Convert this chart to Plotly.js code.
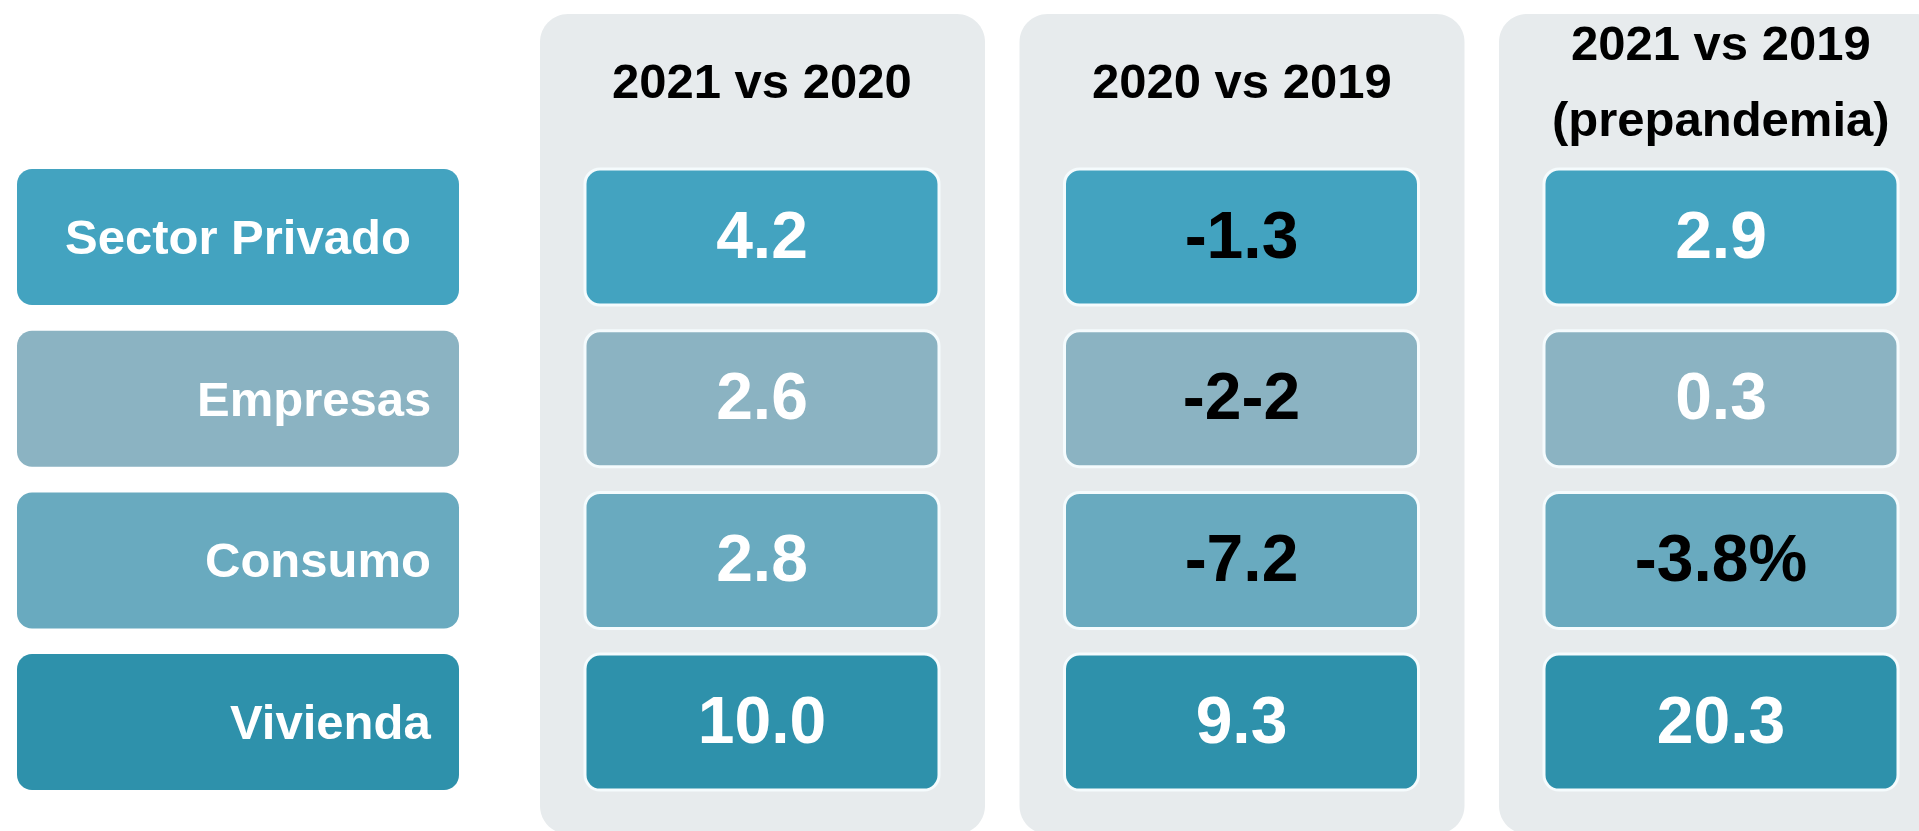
<!DOCTYPE html>
<html>
<head>
<meta charset="utf-8">
<script src="https://cdn.plot.ly/plotly-3.0.1.min.js"></script>
<style>
  html, body { margin: 0; padding: 0; background: #ffffff; }
  #chart { width: 1919px; height: 831px; }
</style>
</head>
<body>
<div id="chart"></div>
<script>
// ---- data ----
const rowLabels = ["Sector Privado", "Empresas", "Consumo", "Vivienda"];
const headers = ["2021 vs 2020", "2020 vs 2019", "2021 vs 2019<br>(prepandemia)"];
const vs2021_2020 = ["4.2", "2.6", "2.8", "10.0"];
const vs2020_2019 = ["-1.3", "-2-2", "-7.2", "9.3"];
const vs2021_2019 = ["2.9", "0.3", "-3.8%", "20.3"];
const columns = [vs2021_2020, vs2020_2019, vs2021_2019];

// ---- styles / layout constants ----
const W = 1919, H = 831;
const rowColors = ["#43a3c0", "#8bb3c2", "#69aabf", "#2e91ab"];
const panelColor = "#e7ebed";
const FONT = "Liberation Sans, Arial, sans-serif";
const rowTop0 = 169, rowStep = 161.7, rowH = 136;
const labelX0 = 17, labelX1 = 459;
const panelX0 = 540, panelStep = 479.5, panelW = 445, panelTop = 14, panelBottom = 834;
const cellInset = 45, cellW = 354;
const valueShift = 4;

function rowTop(i) { return rowTop0 + i * rowStep; }
function rowMid(i) { return rowTop(i) + rowH / 2; }
function panelLeft(j) { return panelX0 + j * panelStep; }
function cellLeft(j) { return panelLeft(j) + cellInset; }
function colMid(j) { return cellLeft(j) + cellW / 2; }

function rr(x0, y0, x1, y1, r) {
  const k = 0.4477 * r;
  return `M${x0 + r},${y0} L${x1 - r},${y0} C${x1 - k},${y0} ${x1},${y0 + k} ${x1},${y0 + r} ` +
         `L${x1},${y1 - r} C${x1},${y1 - k} ${x1 - k},${y1} ${x1 - r},${y1} ` +
         `L${x0 + r},${y1} C${x0 + k},${y1} ${x0},${y1 - k} ${x0},${y1 - r} ` +
         `L${x0},${y0 + r} C${x0},${y0 + k} ${x0 + k},${y0} ${x0 + r},${y0} Z`;
}

const shapes = [];
columns.forEach((col, j) => {
  shapes.push({
    type: "path", xref: "x", yref: "y", layer: "below",
    path: rr(panelLeft(j), panelTop, panelLeft(j) + panelW, panelBottom, 28),
    fillcolor: panelColor, line: { width: 0 }
  });
});
rowLabels.forEach((lab, i) => {
  shapes.push({
    type: "path", xref: "x", yref: "y", layer: "below",
    path: rr(labelX0, rowTop(i), labelX1, rowTop(i) + rowH, 15),
    fillcolor: rowColors[i], line: { width: 0 }
  });
});
columns.forEach((col, j) => {
  col.forEach((v, i) => {
    shapes.push({
      type: "path", xref: "x", yref: "y", layer: "below",
      path: rr(cellLeft(j), rowTop(i), cellLeft(j) + cellW, rowTop(i) + rowH, 15),
      fillcolor: rowColors[i], line: { color: "#f5fbfd", width: 3 }
    });
  });
});

const traces = columns.map((col, j) => ({
  type: "scatter",
  mode: "text",
  x: col.map(() => colMid(j)),
  y: col.map((v, i) => rowMid(i) + valueShift),
  text: col,
  textposition: "middle center",
  textfont: {
    family: FONT, size: 66, weight: "bold",
    color: col.map(v => parseFloat(v) < 0 ? "#000000" : "#ffffff")
  },
  hoverinfo: "skip",
  showlegend: false
}));

const annotations = [];
rowLabels.forEach((lab, i) => {
  const centered = i === 0;
  annotations.push({
    xref: "x", yref: "y",
    x: centered ? (labelX0 + labelX1) / 2 : 433,
    y: rowMid(i),
    xanchor: centered ? "center" : "right",
    yanchor: "middle",
    text: lab, showarrow: false,
    font: { family: FONT, size: 49, weight: "bold", color: "#ffffff" }
  });
});
headers.forEach((h, j) => {
  const lines = h.split("<br>");
  const ys = lines.length === 1 ? [81] : [43, 119];
  lines.forEach((ln, k) => {
    annotations.push({
      xref: "x", yref: "y",
      x: colMid(j), y: ys[k],
      xanchor: "center", yanchor: "middle",
      text: ln, showarrow: false,
      font: { family: FONT, size: 49, weight: "bold", color: "#000000" }
    });
  });
});

const layout = {
  width: W, height: H,
  margin: { l: 0, r: 0, t: 0, b: 0, pad: 0 },
  paper_bgcolor: "#ffffff", plot_bgcolor: "#ffffff",
  xaxis: { range: [0, W], visible: false, fixedrange: true },
  yaxis: { range: [H, 0], visible: false, fixedrange: true },
  shapes: shapes,
  annotations: annotations,
  showlegend: false
};

Plotly.newPlot("chart", traces, layout, { displayModeBar: false, staticPlot: true });
</script>
</body>
</html>
